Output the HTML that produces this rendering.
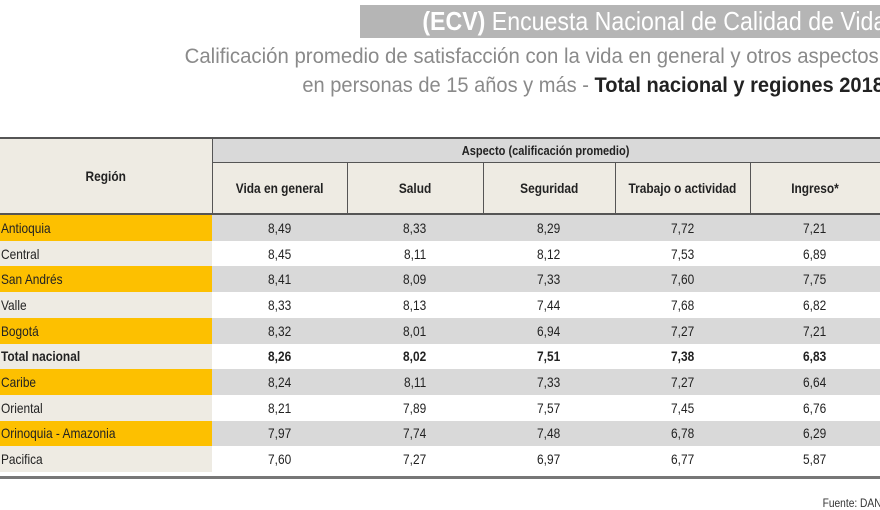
<!DOCTYPE html>
<html><head><meta charset="utf-8">
<style>
html,body{margin:0;padding:0;width:880px;height:510px;overflow:hidden;background:#fff;font-family:"Liberation Sans",sans-serif;}
.abs{position:absolute;}
.t{position:absolute;white-space:nowrap;transform-origin:right center;}
.c{position:absolute;display:flex;align-items:center;justify-content:center;font-size:14px;color:#222;}
.c span{display:inline-block;transform:scaleX(.85);white-space:nowrap;}
.r{position:absolute;display:flex;align-items:center;font-size:14px;color:#222;}
.r span{display:inline-block;transform:scaleX(.85);transform-origin:left center;white-space:nowrap;}
.b span{font-weight:bold;}
</style></head><body>
<div class="abs" style="left:360px;top:5px;width:520px;height:33px;background:#b5b5b5;"></div>
<div class="t" style="right:-6px;top:5px;font-size:26px;line-height:33px;color:#fff;transform:scaleX(.89);"><b>(ECV)</b> Encuesta Nacional de Calidad de Vida</div>
<div class="t" style="right:-4px;top:44px;font-size:21px;line-height:26px;color:#8a8a8a;transform:scaleX(.97);">Calificación promedio de satisfacción con la vida en general y otros aspectos,</div>
<div class="t" style="right:-4px;top:73px;font-size:21px;line-height:26px;color:#8a8a8a;transform:scaleX(.955);">en personas de 15 años y más - <b style="color:#222">Total nacional y regiones 2018</b></div>

<div class="abs" style="left:0;top:137px;width:880px;height:2px;background:#555;"></div>
<div class="abs" style="left:0;top:139px;width:212px;height:75px;background:#eeebe3;"></div>
<div class="abs" style="left:212px;top:139px;width:668px;height:24px;background:#d9d9d9;"></div>
<div class="abs" style="left:212px;top:163px;width:668px;height:51px;background:#eeebe3;"></div>
<div class="abs" style="left:212px;top:139px;width:1px;height:75px;background:#555;"></div>
<div class="abs" style="left:212px;top:162px;width:668px;height:1px;background:#555;"></div>
<div class="abs" style="left:347px;top:163px;width:1px;height:51px;background:#555;"></div>
<div class="abs" style="left:483px;top:163px;width:1px;height:51px;background:#555;"></div>
<div class="abs" style="left:615px;top:163px;width:1px;height:51px;background:#555;"></div>
<div class="abs" style="left:750px;top:163px;width:1px;height:51px;background:#555;"></div>
<div class="abs" style="left:0;top:213px;width:880px;height:2px;background:#555;"></div>
<div class="c b" style="left:0;top:139px;width:212px;height:74px;"><span>Región</span></div>
<div class="c b" style="left:212px;top:139px;width:668px;height:23px;font-size:13px;"><span>Aspecto (calificación promedio)</span></div>
<div class="c b" style="left:212px;top:163px;width:135px;height:50px;"><span>Vida en general</span></div>
<div class="c b" style="left:347px;top:163px;width:136px;height:50px;"><span>Salud</span></div>
<div class="c b" style="left:483px;top:163px;width:132px;height:50px;"><span>Seguridad</span></div>
<div class="c b" style="left:615px;top:163px;width:135px;height:50px;"><span>Trabajo o actividad</span></div>
<div class="c b" style="left:750px;top:163px;width:130px;height:50px;"><span>Ingreso*</span></div>

<div id="rows"></div>
<div class="abs" style="left:0;top:476px;width:880px;height:3px;background:#777;"></div>
<div class="t" style="right:-8px;top:496px;font-size:12px;color:#333;transform:scaleX(.85);">Fuente: DANE</div>
<script>
var d=[["Antioquia","8,49","8,33","8,29","7,72","7,21"],["Central","8,45","8,11","8,12","7,53","6,89"],["San Andrés","8,41","8,09","7,33","7,60","7,75"],["Valle","8,33","8,13","7,44","7,68","6,82"],["Bogotá","8,32","8,01","6,94","7,27","7,21"],["Total nacional","8,26","8,02","7,51","7,38","6,83"],["Caribe","8,24","8,11","7,33","7,27","6,64"],["Oriental","8,21","7,89","7,57","7,45","6,76"],["Orinoquia - Amazonia","7,97","7,74","7,48","6,78","6,29"],["Pacifica","7,60","7,27","6,97","6,77","5,87"]];
var xs=[212,347,483,615,750,880],h="",top0=215,rh=25.7;
d.forEach(function(r,i){var y=top0+i*rh,odd=i%2==0,b=i==5?" b":"";
h+='<div class="abs" style="left:0;top:'+y+'px;width:212px;height:'+(rh+0.5)+'px;background:'+(odd?'#fdc000':'#eeebe3')+'"></div>';
h+='<div class="abs" style="left:212px;top:'+y+'px;width:668px;height:'+(rh+0.5)+'px;background:'+(odd?'#d9d9d9':'#fff')+'"></div>';
h+='<div class="r'+b+'" style="left:1px;top:'+y+'px;height:'+rh+'px;"><span>'+r[0]+'</span></div>';
for(var j=1;j<6;j++)h+='<div class="c'+b+'" style="left:'+xs[j-1]+'px;top:'+y+'px;width:'+(xs[j]-xs[j-1])+'px;height:'+rh+'px;"><span>'+r[j]+'</span></div>';});
document.getElementById("rows").innerHTML=h;
</script>
</body></html>
